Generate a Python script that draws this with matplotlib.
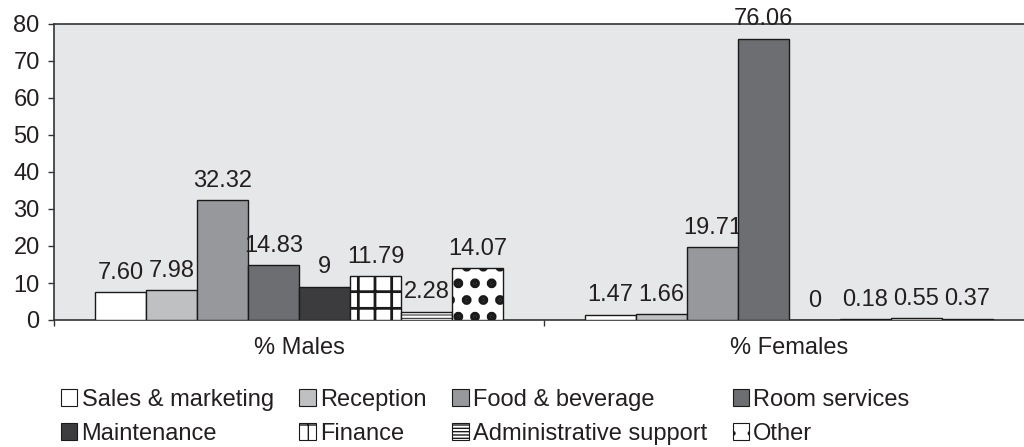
import numpy as np
import matplotlib
matplotlib.use('Agg')
import matplotlib.pyplot as plt
from matplotlib.patches import Patch

plt.rcParams['font.family'] = ['Liberation Sans', 'DejaVu Sans']

groups = ['% Males', '% Females']
jobs = ['Sales & marketing', 'Reception', 'Food & beverage', 'Room services',
        'Maintenance', 'Finance', 'Administrative support', 'Other']
males = [7.60, 7.98, 32.32, 14.83, 9, 11.79, 2.28, 14.07]
females = [1.47, 1.66, 19.71, 76.06, 0, 0.18, 0.55, 0.37]
male_labels = ['7.60', '7.98', '32.32', '14.83', '9', '11.79', '2.28', '14.07']
female_labels = ['1.47', '1.66', '19.71', '76.06', '0', '0.18', '0.55', '0.37']

# bar looks: fill colour, hatch, hatch line width
colors = ['#ffffff', '#bfc0c2', '#97989b', '#6d6e71', '#3c3c3e', '#ffffff', '#ffffff', '#ffffff']
hatches = [None, None, None, None, None, '+', '-----', '.']
hatch_lw = [1, 1, 1, 1, 1, 2.0, 0.7, 4.6]

fig = plt.figure(figsize=(10.24, 4.47), dpi=100)
ax = fig.add_axes([54/1024, 127/447, 970/1024, 296/447])
ax.set_facecolor('#e6e7e8')

x = np.arange(len(groups))
w = 0.104
txt = '#231f20'
fs = 17
handles = []
for i, job in enumerate(jobs):
    vals = [males[i], females[i]]
    with plt.rc_context({'hatch.linewidth': hatch_lw[i]}):
        bars = ax.bar(x + (i - 3.5) * w, vals, w, color=colors[i], edgecolor='#1a1a1a',
                      linewidth=1.0, hatch=hatches[i], zorder=3)
        handles.append(Patch(facecolor=colors[i], edgecolor='#1a1a1a', linewidth=0.8,
                             hatch=hatches[i], label=job))
    for b, lab in zip(bars, [male_labels[i], female_labels[i]]):
        ax.annotate(lab, (b.get_x() + b.get_width() / 2, b.get_height()),
                    xytext=(0, 6), textcoords='offset points', ha='center', va='bottom',
                    fontsize=fs, color=txt)

ax.set_ylim(0, 80)
ax.set_yticks(range(0, 81, 10))
ax.set_xlim(-0.5, 1.5 - 10 / 490)
ax.set_xticks(x)
ax.set_xticklabels(groups)
ax.set_xticks([-0.5, 0.5], minor=True)
ax.tick_params(axis='x', which='major', length=0, pad=12, labelsize=fs, colors=txt)
ax.tick_params(axis='x', which='minor', length=4.3, width=1, color='#333333')
ax.tick_params(axis='y', length=4.3, width=1, pad=6, labelsize=fs, colors=txt, color='#333333')
for side in ['left', 'top', 'bottom']:
    ax.spines[side].set_color('#333333')
    ax.spines[side].set_linewidth(1.2)
ax.spines['right'].set_visible(False)

# legend is filled row by row in the reference
order = [0, 4, 1, 5, 2, 6, 3, 7]
fig.legend(handles=[handles[k] for k in order], ncol=4, loc='upper left',
           bbox_to_anchor=(49/1024, 1 - 377/447),
           frameon=False, fontsize=fs, handlelength=0.7, handleheight=0.7,
           handletextpad=0.18, columnspacing=1.08, labelspacing=0.5, borderpad=0,
           labelcolor=txt)

fig.savefig('out.png', dpi=100)
